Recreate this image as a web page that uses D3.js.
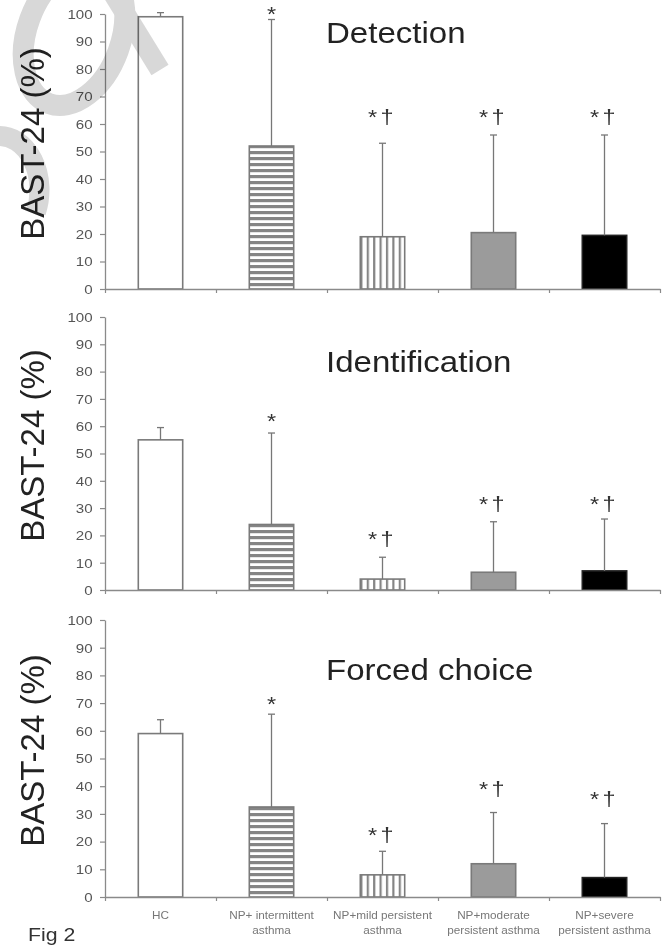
<!DOCTYPE html>
<html>
<head>
<meta charset="utf-8">
<script src="https://cdn.jsdelivr.net/npm/d3@7"></script>
<style>
  body { margin: 0; background: #fff; }
  svg { display: block; font-family: "Liberation Sans", Arial, sans-serif; }
</style>
</head>
<body>
<div id="chart"></div>
<script>
// groups along the x axis
var categories = ["HC", "NP+ intermittent asthma", "NP+mild persistent asthma",
    "NP+moderate persistent asthma", "NP+severe persistent asthma"];
var categoryLines = [["HC"], ["NP+ intermittent", "asthma"], ["NP+mild persistent", "asthma"],
    ["NP+moderate", "persistent asthma"], ["NP+severe", "persistent asthma"]];
var panelTitles = ["Detection", "Identification", "Forced choice"];
var yTicks = [0, 10, 20, 30, 40, 50, 60, 70, 80, 90, 100];

// means and SD (%)
var detectionMean = [99, 52, 19, 20.5, 19.5];
var detectionSD = [1.5, 46, 34, 35.5, 36.5];
var identificationMean = [55, 24, 4, 6.5, 7];
var identificationSD = [4.5, 33.5, 8, 18.5, 19];
var forcedMean = [59, 32.5, 8, 12, 7];
var forcedSD = [5, 33.5, 8.5, 18.5, 19.5];

// significance marks and the value where their baseline sits
var marks = ["", "*", "*\u2020", "*\u2020", "*\u2020"];
var detectionMarkAt = [0, 97.5, 60, 60, 60];
var identificationMarkAt = [0, 59.3, 16, 29, 29];
var forcedMarkAt = [0, 67, 20, 36.5, 33];

var panels = [
    {title: panelTitles[0], mean: detectionMean, sd: detectionSD, markAt: detectionMarkAt},
    {title: panelTitles[1], mean: identificationMean, sd: identificationSD, markAt: identificationMarkAt},
    {title: panelTitles[2], mean: forcedMean, sd: forcedSD, markAt: forcedMarkAt}
];

var W = 667, H = 947;
var left = 105, right = 660;
var tops = [14, 317, 620], bottoms = [289, 590, 897];
var stretch = 1.12;   // the scan is a bit wider than tall
var axisCol = "#8a8a8a", barLine = "#7a7a7a";

var svg = d3.select("#chart").append("svg")
    .attr("width", W).attr("height", H);

var defs = svg.append("defs");

var x = d3.scaleBand().domain(categories).range([left, right]);
var xb = d3.scaleLinear().domain([0, categories.length]).range([left, right]);
var barW = x.bandwidth() * 0.4;

function fillFor(i, p) {
    if (i === 0) return "#fff";
    if (i === 1) return "url(#hstripe" + p + ")";
    if (i === 2) return "url(#vstripe" + p + ")";
    if (i === 3) return "#9b9b9b";
    return "#000";
}

function sText(g, tx, ty, str) {
    return g.append("text")
        .attr("transform", "translate(" + tx + "," + ty + ") scale(" + stretch + ",1)")
        .text(str);
}

panels.forEach(function (p, pi) {
    var y = d3.scaleLinear().domain([0, 100]).range([bottoms[pi], tops[pi]]);
    var g = svg.append("g");

    // stripe patterns, lined up with the bars
    var hp = defs.append("pattern").attr("id", "hstripe" + pi)
        .attr("patternUnits", "userSpaceOnUse").attr("width", 10).attr("height", 6)
        .attr("y", bottoms[pi]);
    hp.append("rect").attr("width", 10).attr("height", 6).attr("fill", "#fff");
    hp.append("rect").attr("width", 10).attr("height", 3.2).attr("fill", "#858585");
    var vp = defs.append("pattern").attr("id", "vstripe" + pi)
        .attr("patternUnits", "userSpaceOnUse").attr("width", 6.4).attr("height", 10)
        .attr("x", x(categories[2]) + (x.bandwidth() - barW) / 2);
    vp.append("rect").attr("width", 6.4).attr("height", 10).attr("fill", "#fff");
    vp.append("rect").attr("width", 2.2).attr("height", 10).attr("fill", "#858585");

    // y axis
    var ya = g.append("g").attr("transform", "translate(" + left + ",0)")
        .call(d3.axisLeft(y).tickValues(yTicks).tickSize(5).tickSizeOuter(0).tickPadding(6));
    ya.select(".domain").attr("stroke", axisCol).attr("stroke-width", 1.3);
    ya.selectAll(".tick line").attr("stroke", axisCol).attr("stroke-width", 1.2);
    ya.selectAll(".tick text").attr("fill", "#555").attr("font-size", 13.5)
        .attr("font-family", "Liberation Sans, Arial, sans-serif")
        .attr("transform", "scale(" + stretch + ",1)");

    // bars
    g.selectAll(".bar").data(p.mean).enter().append("rect")
        .attr("x", function (d, i) { return x(categories[i]) + (x.bandwidth() - barW) / 2; })
        .attr("y", function (d) { return y(d); })
        .attr("width", barW)
        .attr("height", function (d) { return y(0) - y(d); })
        .attr("fill", function (d, i) { return fillFor(i, pi); })
        .attr("stroke", function (d, i) { return i === 4 ? "#222" : barLine; })
        .attr("stroke-width", 1.6);

    // upper error bars
    var eb = g.selectAll(".err").data(p.mean).enter().append("g")
        .attr("stroke", "#777").attr("stroke-width", 1.3);
    eb.append("line")
        .attr("x1", function (d, i) { return x(categories[i]) + x.bandwidth() / 2; })
        .attr("x2", function (d, i) { return x(categories[i]) + x.bandwidth() / 2; })
        .attr("y1", function (d) { return y(d); })
        .attr("y2", function (d, i) { return y(d + p.sd[i]); });
    eb.append("line")
        .attr("x1", function (d, i) { return x(categories[i]) + x.bandwidth() / 2 - 3.5; })
        .attr("x2", function (d, i) { return x(categories[i]) + x.bandwidth() / 2 + 3.5; })
        .attr("y1", function (d, i) { return y(d + p.sd[i]); })
        .attr("y2", function (d, i) { return y(d + p.sd[i]); });

    // x axis with ticks at the group borders
    var xa = g.append("g").attr("transform", "translate(0," + bottoms[pi] + ")")
        .call(d3.axisBottom(xb).tickValues(d3.range(categories.length + 1))
            .tickSize(4).tickSizeOuter(0).tickFormat(""));
    xa.select(".domain").attr("stroke", axisCol).attr("stroke-width", 1.3);
    xa.selectAll(".tick line").attr("stroke", axisCol).attr("stroke-width", 1.2);

    // significance marks
    marks.forEach(function (m, i) {
        if (!m) return;
        sText(g, x(categories[i]) + x.bandwidth() / 2, y(p.markAt[i]), m)
            .attr("text-anchor", "middle").attr("font-size", 21)
            .attr("letter-spacing", m.length > 1 ? 3 : 0)
            .attr("fill", "#333");
    });

    // panel title
    sText(g, 326, [43, 372, 680][pi], p.title)
        .attr("font-size", 29.5).attr("fill", "#222");

    // y label
    g.append("text")
        .attr("transform", "translate(44," + ((tops[pi] + bottoms[pi]) / 2 - 8) + ") rotate(-90)")
        .attr("text-anchor", "middle").attr("font-size", 33).attr("fill", "#222")
        .text("BAST-24 (%)");
});

// group names under the last panel
var lab = svg.append("g").attr("fill", "#777").attr("font-size", 10.5);
categoryLines.forEach(function (lines, i) {
    lines.forEach(function (s, k) {
        sText(lab, x(categories[i]) + x.bandwidth() / 2, 919 + k * 15, s)
            .attr("text-anchor", "middle");
    });
});

sText(svg, 28, 941, "Fig 2").attr("font-size", 19).attr("fill", "#333");

// light grey stamp laid over the top left corner
var wm = svg.append("g").attr("fill", "none").attr("stroke", "#d8d8d8")
    .style("mix-blend-mode", "multiply");
wm.append("ellipse").attr("cx", 74).attr("cy", 35).attr("rx", 47).attr("ry", 73)
    .attr("transform", "rotate(20 74 35)").attr("stroke-width", 21);
wm.append("path").attr("d", "M 112 -8 L 160 70").attr("stroke-width", 20);
wm.append("path").attr("d", "M -2 136 A 40 54 0 0 1 36 212").attr("stroke-width", 20);
</script>
</body>
</html>
